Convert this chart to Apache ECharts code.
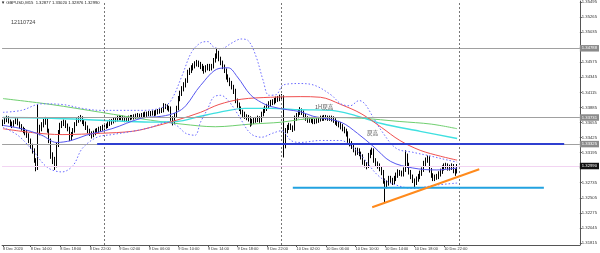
<!DOCTYPE html>
<html><head><meta charset="utf-8">
<script src="https://cdn.jsdelivr.net/npm/echarts@6/dist/echarts.min.js"></script>
<style>html,body{margin:0;padding:0;background:#fff}#c{width:600px;height:253px}</style>
</head><body><div id="c"></div>
<script>
// ---- data ----
const symbolTitle = 'GBPUSD,M15  1.32877 1.33020 1.32876 1.32990';
const noteText = '12110724';
const startDay = 8, startMinutes = 10 * 60 + 15, stepMinutes = 15, totalSlots = 313;
// [open, close, low, high]
const candles = [
[1.3364,1.3366,1.3360,1.3370],[1.3366,1.3369,1.3363,1.3373],[1.3369,1.3372,1.3366,1.3376],[1.3372,1.3367,1.3364,1.3375],
[1.3367,1.3363,1.3359,1.3370],[1.3363,1.3361,1.3357,1.3367],[1.3361,1.3366,1.3359,1.3369],[1.3366,1.3369,1.3363,1.3372],
[1.3369,1.3364,1.3361,1.3372],[1.3364,1.3360,1.3356,1.3367],[1.3360,1.3356,1.3353,1.3363],[1.3356,1.3353,1.3349,1.3359],
[1.3353,1.3350,1.3346,1.3357],[1.3350,1.3346,1.3342,1.3354],[1.3346,1.3338,1.3334,1.3349],[1.3338,1.3329,1.3325,1.3341],
[1.3329,1.3323,1.3318,1.3333],[1.3323,1.3308,1.3304,1.3326],[1.3308,1.3296,1.3291,1.3311],[1.3296,1.3353,1.3293,1.3393],
[1.3353,1.3356,1.3346,1.3362],[1.3356,1.3361,1.3352,1.3366],[1.3361,1.3366,1.3358,1.3371],[1.3366,1.3369,1.3362,1.3374],
[1.3369,1.3353,1.3350,1.3372],[1.3353,1.3338,1.3334,1.3356],[1.3338,1.3315,1.3310,1.3341],[1.3315,1.3308,1.3302,1.3320],
[1.3308,1.3300,1.3293,1.3313],[1.3300,1.3331,1.3297,1.3335],[1.3331,1.3350,1.3328,1.3354],[1.3350,1.3361,1.3347,1.3365],
[1.3361,1.3364,1.3357,1.3368],[1.3364,1.3366,1.3360,1.3370],[1.3366,1.3361,1.3357,1.3369],[1.3361,1.3356,1.3352,1.3364],
[1.3356,1.3341,1.3337,1.3359],[1.3341,1.3347,1.3338,1.3351],[1.3347,1.3353,1.3344,1.3357],[1.3353,1.3363,1.3350,1.3366],
[1.3363,1.3369,1.3360,1.3373],[1.3369,1.3370,1.3365,1.3375],[1.3370,1.3372,1.3367,1.3377],[1.3372,1.3367,1.3363,1.3375],
[1.3367,1.3364,1.3360,1.3370],[1.3364,1.3358,1.3354,1.3367],[1.3358,1.3353,1.3349,1.3361],[1.3353,1.3349,1.3345,1.3356],
[1.3349,1.3346,1.3341,1.3352],[1.3346,1.3349,1.3343,1.3353],[1.3349,1.3352,1.3346,1.3356],[1.3352,1.3353,1.3348,1.3357],
[1.3353,1.3355,1.3350,1.3359],[1.3355,1.3356,1.3351,1.3360],[1.3356,1.3358,1.3353,1.3362],[1.3358,1.3360,1.3354,1.3364],
[1.3360,1.3360,1.3356,1.3364],[1.3360,1.3363,1.3357,1.3367],[1.3363,1.3366,1.3360,1.3370],[1.3366,1.3367,1.3362,1.3371],
[1.3367,1.3369,1.3364,1.3373],[1.3369,1.3370,1.3366,1.3374],[1.3370,1.3372,1.3367,1.3376],[1.3372,1.3373,1.3369,1.3377],
[1.3373,1.3373,1.3369,1.3377],[1.3373,1.3372,1.3368,1.3376],[1.3372,1.3370,1.3366,1.3375],[1.3370,1.3370,1.3366,1.3374],
[1.3370,1.3372,1.3367,1.3376],[1.3372,1.3373,1.3369,1.3377],[1.3373,1.3373,1.3370,1.3377],[1.3373,1.3375,1.3370,1.3378],
[1.3375,1.3375,1.3371,1.3379],[1.3375,1.3376,1.3372,1.3380],[1.3376,1.3375,1.3371,1.3379],[1.3375,1.3376,1.3372,1.3380],
[1.3376,1.3378,1.3373,1.3381],[1.3378,1.3378,1.3374,1.3382],[1.3378,1.3378,1.3374,1.3382],[1.3378,1.3379,1.3375,1.3383],
[1.3379,1.3379,1.3375,1.3383],[1.3379,1.3381,1.3376,1.3384],[1.3381,1.3379,1.3375,1.3384],[1.3379,1.3381,1.3376,1.3385],
[1.3381,1.3382,1.3378,1.3386],[1.3382,1.3384,1.3379,1.3388],[1.3384,1.3384,1.3380,1.3388],[1.3384,1.3391,1.3381,1.3395],
[1.3391,1.3390,1.3386,1.3394],[1.3390,1.3388,1.3384,1.3393],[1.3388,1.3387,1.3382,1.3391],[1.3387,1.3372,1.3368,1.3390],
[1.3372,1.3366,1.3361,1.3375],[1.3366,1.3376,1.3363,1.3380],[1.3376,1.3387,1.3373,1.3391],[1.3387,1.3402,1.3384,1.3406],
[1.3402,1.3410,1.3398,1.3414],[1.3410,1.3417,1.3406,1.3421],[1.3417,1.3423,1.3413,1.3427],[1.3423,1.3429,1.3419,1.3433],
[1.3429,1.3442,1.3426,1.3446],[1.3442,1.3445,1.3438,1.3449],[1.3445,1.3449,1.3441,1.3453],[1.3449,1.3452,1.3445,1.3456],
[1.3452,1.3455,1.3448,1.3459],[1.3455,1.3457,1.3451,1.3461],[1.3457,1.3454,1.3450,1.3460],[1.3454,1.3451,1.3447,1.3458],
[1.3451,1.3448,1.3444,1.3455],[1.3448,1.3445,1.3440,1.3452],[1.3445,1.3449,1.3442,1.3453],[1.3449,1.3451,1.3445,1.3455],
[1.3451,1.3448,1.3444,1.3455],[1.3448,1.3451,1.3445,1.3455],[1.3451,1.3460,1.3448,1.3464],[1.3460,1.3467,1.3457,1.3471],
[1.3467,1.3472,1.3463,1.3478],[1.3472,1.3463,1.3459,1.3475],[1.3463,1.3457,1.3453,1.3466],[1.3457,1.3451,1.3447,1.3460],
[1.3451,1.3445,1.3441,1.3454],[1.3445,1.3435,1.3431,1.3448],[1.3435,1.3431,1.3427,1.3439],[1.3431,1.3426,1.3421,1.3434],
[1.3426,1.3420,1.3416,1.3429],[1.3420,1.3414,1.3409,1.3423],[1.3414,1.3399,1.3395,1.3417],[1.3399,1.3393,1.3388,1.3402],
[1.3393,1.3387,1.3383,1.3396],[1.3387,1.3382,1.3378,1.3390],[1.3382,1.3379,1.3374,1.3385],[1.3379,1.3375,1.3371,1.3382],
[1.3375,1.3373,1.3369,1.3378],[1.3373,1.3372,1.3367,1.3377],[1.3372,1.3364,1.3359,1.3375],[1.3364,1.3367,1.3361,1.3371],
[1.3367,1.3369,1.3363,1.3373],[1.3369,1.3370,1.3365,1.3374],[1.3370,1.3372,1.3366,1.3376],[1.3372,1.3369,1.3365,1.3375],
[1.3369,1.3378,1.3366,1.3382],[1.3378,1.3384,1.3375,1.3388],[1.3384,1.3387,1.3380,1.3391],[1.3387,1.3390,1.3383,1.3394],
[1.3390,1.3394,1.3386,1.3398],[1.3394,1.3396,1.3390,1.3400],[1.3396,1.3397,1.3392,1.3401],[1.3397,1.3399,1.3393,1.3403],
[1.3399,1.3401,1.3395,1.3405],[1.3401,1.3402,1.3397,1.3406],[1.3402,1.3404,1.3398,1.3408],[1.3404,1.3405,1.3400,1.3409],
[1.3405,1.3331,1.3312,1.3407],[1.3331,1.3353,1.3326,1.3357],[1.3353,1.3358,1.3349,1.3362],[1.3358,1.3361,1.3354,1.3365],
[1.3361,1.3358,1.3354,1.3364],[1.3358,1.3356,1.3351,1.3361],[1.3356,1.3372,1.3353,1.3376],[1.3372,1.3376,1.3368,1.3380],
[1.3376,1.3381,1.3372,1.3385],[1.3381,1.3384,1.3377,1.3389],[1.3384,1.3381,1.3377,1.3387],[1.3381,1.3376,1.3372,1.3384],
[1.3376,1.3372,1.3368,1.3379],[1.3372,1.3369,1.3365,1.3375],[1.3369,1.3370,1.3365,1.3374],[1.3370,1.3369,1.3365,1.3374],
[1.3369,1.3367,1.3363,1.3372],[1.3367,1.3367,1.3363,1.3371],[1.3367,1.3369,1.3364,1.3373],[1.3369,1.3370,1.3365,1.3374],
[1.3370,1.3372,1.3367,1.3376],[1.3372,1.3372,1.3368,1.3376],[1.3372,1.3373,1.3368,1.3377],[1.3373,1.3373,1.3369,1.3377],
[1.3373,1.3372,1.3368,1.3376],[1.3372,1.3372,1.3368,1.3376],[1.3372,1.3372,1.3367,1.3376],[1.3372,1.3369,1.3365,1.3375],
[1.3369,1.3366,1.3362,1.3372],[1.3366,1.3364,1.3360,1.3369],[1.3364,1.3363,1.3358,1.3368],[1.3363,1.3360,1.3355,1.3366],
[1.3360,1.3356,1.3352,1.3363],[1.3356,1.3353,1.3349,1.3359],[1.3353,1.3349,1.3344,1.3356],[1.3349,1.3338,1.3334,1.3352],
[1.3338,1.3334,1.3329,1.3341],[1.3334,1.3329,1.3325,1.3337],[1.3329,1.3324,1.3320,1.3332],[1.3324,1.3320,1.3315,1.3327],
[1.3320,1.3323,1.3316,1.3327],[1.3323,1.3318,1.3314,1.3326],[1.3318,1.3314,1.3309,1.3321],[1.3314,1.3305,1.3301,1.3317],
[1.3305,1.3302,1.3297,1.3308],[1.3302,1.3299,1.3294,1.3305],[1.3299,1.3315,1.3296,1.3319],[1.3315,1.3320,1.3311,1.3324],
[1.3320,1.3323,1.3316,1.3327],[1.3323,1.3308,1.3304,1.3326],[1.3308,1.3303,1.3299,1.3311],[1.3303,1.3300,1.3295,1.3306],
[1.3300,1.3296,1.3291,1.3303],[1.3296,1.3290,1.3285,1.3299],[1.3290,1.3277,1.3272,1.3293],[1.3277,1.3270,1.3244,1.3280],
[1.3270,1.3273,1.3265,1.3277],[1.3273,1.3280,1.3269,1.3284],[1.3280,1.3277,1.3273,1.3284],[1.3277,1.3274,1.3270,1.3281],
[1.3274,1.3280,1.3271,1.3284],[1.3280,1.3285,1.3276,1.3289],[1.3285,1.3290,1.3281,1.3294],[1.3290,1.3288,1.3284,1.3293],
[1.3288,1.3287,1.3283,1.3292],[1.3287,1.3293,1.3283,1.3297],[1.3293,1.3315,1.3290,1.3323],[1.3315,1.3300,1.3296,1.3318],
[1.3300,1.3290,1.3286,1.3304],[1.3290,1.3283,1.3279,1.3293],[1.3283,1.3277,1.3273,1.3286],[1.3277,1.3273,1.3267,1.3280],
[1.3273,1.3279,1.3270,1.3283],[1.3279,1.3283,1.3275,1.3287],[1.3283,1.3288,1.3279,1.3292],[1.3288,1.3293,1.3284,1.3297],
[1.3293,1.3303,1.3290,1.3307],[1.3303,1.3308,1.3299,1.3312],[1.3308,1.3311,1.3304,1.3315],[1.3311,1.3293,1.3289,1.3314],
[1.3293,1.3285,1.3281,1.3296],[1.3285,1.3280,1.3276,1.3288],[1.3280,1.3282,1.3276,1.3286],[1.3282,1.3283,1.3278,1.3287],
[1.3283,1.3287,1.3279,1.3291],[1.3287,1.3291,1.3283,1.3295],[1.3291,1.3296,1.3287,1.3300],[1.3296,1.3299,1.3292,1.3303],
[1.3299,1.3300,1.3295,1.3304],[1.3300,1.3296,1.3292,1.3303],[1.3296,1.3297,1.3292,1.3301],[1.3297,1.3299,1.3293,1.3303],
[1.3299,1.3292,1.3288,1.3302],[1.3292,1.3288,1.3284,1.3295],[1.32877,1.32990,1.32876,1.33020]
];
// indicator lines: [bar index, price]
const bbUpper = [[0,1.3381],[10,1.3384],[21,1.3394],[32,1.3393],[43,1.3387],[53,1.3384],[64,1.3384],[75,1.3384],[86,1.3388],[91,1.3399],[97,1.3437],[102,1.3472],[107,1.3487],[111,1.3489],[114,1.3481],[118,1.3478],[124,1.3487],[129,1.3493],[133,1.3490],[137,1.3467],[141,1.3429],[144,1.3407],[148,1.3408],[152,1.3423],[161,1.3425],[169,1.3422],[178,1.3407],[183,1.3394],[188,1.3391],[193,1.3399],[196,1.3394],[200,1.3376],[205,1.3353],[213,1.3326],[222,1.3320],[232,1.3314],[241,1.3308],[246,1.3305]];
const bbLower = [[0,1.3358],[8,1.3346],[16,1.3323],[24,1.3297],[32,1.3290],[38,1.3300],[43,1.3326],[51,1.3343],[59,1.3347],[70,1.3352],[80,1.3358],[89,1.3366],[94,1.3361],[99,1.3349],[104,1.3346],[107,1.3366],[111,1.3387],[114,1.3404],[118,1.3407],[122,1.3399],[127,1.3379],[134,1.3349],[140,1.3343],[146,1.3349],[151,1.3353],[156,1.3338],[161,1.3335],[172,1.3338],[183,1.3338],[188,1.3331],[195,1.3312],[203,1.3285],[210,1.3273],[222,1.3265],[235,1.3270],[246,1.3273]];
const midLine = [[0,1.3361],[10,1.3356],[21,1.3346],[29,1.3335],[37,1.3338],[45,1.3346],[59,1.3356],[75,1.3372],[86,1.3375],[94,1.3381],[99,1.3391],[107,1.3422],[117,1.3448],[122,1.3449],[127,1.3435],[134,1.3408],[140,1.3396],[145,1.3390],[154,1.3385],[161,1.3382],[168,1.3375],[183,1.3366],[192,1.3349],[201,1.3328],[210,1.3306],[222,1.3296],[235,1.3293],[246,1.3296]];
const redMA = [[0,1.3356],[16,1.3350],[32,1.3347],[53,1.3349],[70,1.3352],[80,1.3358],[94,1.3369],[107,1.3381],[117,1.3393],[129,1.3401],[145,1.3404],[161,1.3405],[172,1.3404],[183,1.3393],[194,1.3379],[205,1.3358],[215,1.3338],[226,1.3323],[237,1.3314],[246,1.3308]];
const cyanMA = [[0,1.3373],[26,1.3372],[53,1.3369],[80,1.3366],[94,1.3367],[107,1.3375],[117,1.3381],[131,1.3387],[145,1.3387],[161,1.3385],[178,1.3384],[191,1.3376],[205,1.3364],[226,1.3352],[246,1.3341]];
const greenMA = [[0,1.3402],[26,1.3393],[53,1.3381],[80,1.3369],[97,1.3363],[115,1.3359],[134,1.3363],[151,1.3366],[161,1.3370],[178,1.3373],[194,1.3372],[215,1.3367],[232,1.3363],[246,1.3356]];
// horizontal objects
const greyLevels = [1.34788, 1.33731, 1.33325];
const currentPrice = 1.32990;
const blueLevel = [[51,1.33325],[304,1.33325]];
const skyLevel = [[157,1.3266],[293,1.3266]];
const trendLine = [[200,1.3236],[258,1.3294]];
const daySeparators = [55, 151, 247];
const yTicks = [1.31815,1.32045,1.32275,1.32505,1.32735,1.32965,1.33195,1.33425,1.33655,1.33885,1.34115,1.34345,1.34575,1.34805,1.35035,1.35265,1.35495];
const textNotes = [{t:'1H戻高', x:315, y:104}, {t:'戻高', x:367, y:130}];

// ---- build ----
const pad = n => (n < 10 ? '0' : '') + n;
const categories = [];
for (let k = 0; k < totalSlots; k++) {
  const t = startMinutes + stepMinutes * k;
  const d = startDay + Math.floor(t / 1440), m = t % 1440;
  categories.push(d + ' Dec ' + pad(Math.floor(m / 60)) + ':' + pad(m % 60));
}
const lastBar = candles.length - 1;
const showLabel = (i, v) => i === 0 || (i <= lastBar && /:00$/.test(v) && (parseInt(v.split(' ')[2]) % 4 === 2));
const font = 'Liberation Sans, Arial, sans-serif';
const boxLabel = (bg) => ({show:true, position:'end', distance:0, formatter:p=>Number(p.value).toFixed(5),
  backgroundColor:bg, color:'#fff', fontSize:4.2, fontFamily:font, padding:[1.5,2,1,2]});

const markData = [];
greyLevels.forEach(v => markData.push({yAxis:v, lineStyle:{color:'#a0a0a0', width:1, type:'solid'}, label:boxLabel('#8a8a8a')}));
markData.push({yAxis:currentPrice, lineStyle:{color:'#f2d4f2', width:1, type:'solid'}, label:boxLabel('#111')});
daySeparators.forEach(v => markData.push({xAxis:v, lineStyle:{color:'#777', width:1, type:[2,2]}, label:{show:false}}));

const lineS = (name, data, color, width, type, z) => ({type:'line', name, data, symbol:'none', smooth:0.35,
  lineStyle:{color, width, type}, z: z || 3, silent:true, animation:false});

const chart = echarts.init(document.getElementById('c'), null, {renderer:'canvas'});
chart.setOption({
  animation:false,
  backgroundColor:'#fff',
  grid:{left:0, right:20, top:0, bottom:8, containLabel:false},
  xAxis:{type:'category', data:categories, boundaryGap:true,
    axisLine:{show:true, lineStyle:{color:'#555', width:1}},
    axisTick:{show:true, interval:showLabel, alignWithLabel:true, length:2, lineStyle:{color:'#555'}},
    axisLabel:{interval:showLabel, align:'left', margin:2, fontSize:3.9, fontFamily:font, color:'#333',
      formatter:(v, i) => i === 0 ? '8 Dec 2020' : v},
    splitLine:{show:false}},
  yAxis:{type:'value', position:'right', min:1.31784, max:1.35510, scale:true,
    axisLine:{show:true, lineStyle:{color:'#555', width:1}},
    axisTick:{show:true, customValues:yTicks, length:2, lineStyle:{color:'#555'}},
    axisLabel:{show:true, customValues:yTicks, fontSize:4.2, fontFamily:font, color:'#333', margin:2,
      formatter:v => Number(v).toFixed(5)},
    splitLine:{show:false}},
  graphic:[
    {type:'text', left:1, top:1, style:{text:'▼ ' + symbolTitle, fontSize:4.2, fontFamily:font, fill:'#222'}},
    {type:'text', left:11, top:19, style:{text:noteText, fontSize:5.6, fontFamily:font, fill:'#444'}}
  ].concat(textNotes.map(n => ({type:'text', left:n.x, top:n.y, z:10,
      style:{text:n.t, fontSize:5.6, fontFamily:'Noto Sans CJK JP, sans-serif', fill:'#555'}}))),
  series:[
    {type:'candlestick', name:'GBPUSD', data:candles, barWidth:1, silent:true, z:2,
      itemStyle:{color:'#000', color0:'#000', borderColor:'#000', borderColor0:'#000', borderWidth:1},
      markLine:{symbol:['none','none'], precision:5, silent:true, animation:false, data:markData}},
    lineS('green', greenMA, '#6fcf6f', 1, 'solid'),
    lineS('cyan', cyanMA, '#3fe0e0', 1.4, 'solid'),
    lineS('red', redMA, '#f05050', 1, 'solid'),
    lineS('bbUpper', bbUpper, '#6a6aff', 1, [1.5,2]),
    lineS('bbLower', bbLower, '#6a6aff', 1, [1.5,2]),
    lineS('mid', midLine, '#5656f0', 1, 'solid'),
    {type:'line', name:'blueLevel', data:blueLevel, symbol:'none', lineStyle:{color:'#2f3fd0', width:2}, z:5, silent:true},
    {type:'line', name:'skyLevel', data:skyLevel, symbol:'none', lineStyle:{color:'#22a2e0', width:2}, z:5, silent:true},
    {type:'line', name:'trend', data:trendLine, symbol:'none', lineStyle:{color:'#ff8a1c', width:2}, z:5, silent:true}
  ]
});
</script></body></html>
